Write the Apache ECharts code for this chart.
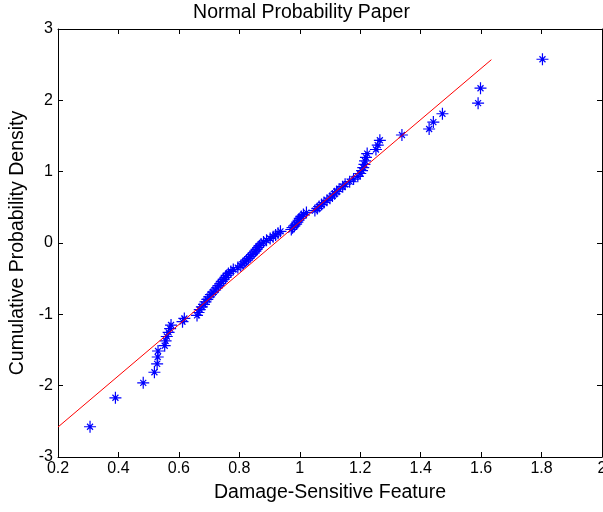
<!DOCTYPE html>
<html>
<head>
<meta charset="utf-8">
<script src="https://cdn.jsdelivr.net/npm/echarts@6/dist/echarts.min.js"></script>
<style>
html,body{margin:0;padding:0;background:#fff;overflow:hidden;}
#chart{width:603px;height:512px;}
</style>
</head>
<body>
<div id="chart"></div>
<script>
// Sorted feature values (x) and their normal quantiles (y)
const featureValues = [
  0.306, 0.390, 0.482, 0.519, 0.528, 0.530, 0.531, 0.553, 0.556, 0.560,
  0.566, 0.571, 0.574, 0.612, 0.618, 0.660, 0.665, 0.669, 0.676, 0.683,
  0.688, 0.694, 0.700, 0.706, 0.713, 0.720, 0.726, 0.731, 0.737, 0.742,
  0.748, 0.754, 0.758, 0.764, 0.772, 0.780, 0.795, 0.805, 0.812, 0.818,
  0.824, 0.830, 0.836, 0.842, 0.848, 0.853, 0.857, 0.862, 0.867, 0.872,
  0.880, 0.890, 0.902, 0.912, 0.920, 0.928, 0.936, 0.972, 0.976, 0.982,
  0.988, 0.992, 0.996, 1.000, 1.005, 1.012, 1.022, 1.050, 1.058, 1.064,
  1.072, 1.080, 1.090, 1.100, 1.108, 1.115, 1.122, 1.130, 1.142, 1.150,
  1.165, 1.178, 1.192, 1.200, 1.206, 1.210, 1.214, 1.216, 1.219, 1.223,
  1.252, 1.258, 1.265, 1.338, 1.428, 1.442, 1.472, 1.590, 1.598, 1.803
];
const quantiles = [
  -2.576, -2.170, -1.960, -1.812, -1.695, -1.598, -1.514, -1.440, -1.372, -1.311,
  -1.254, -1.200, -1.150, -1.103, -1.058, -1.015, -0.974, -0.935, -0.896, -0.860,
  -0.824, -0.789, -0.755, -0.722, -0.690, -0.659, -0.628, -0.598, -0.568, -0.539,
  -0.510, -0.482, -0.454, -0.426, -0.399, -0.372, -0.345, -0.319, -0.292, -0.266,
  -0.240, -0.215, -0.189, -0.164, -0.138, -0.113, -0.088, -0.063, -0.038, -0.013,
  0.013, 0.038, 0.063, 0.088, 0.113, 0.138, 0.164, 0.189, 0.215, 0.240,
  0.266, 0.292, 0.319, 0.345, 0.372, 0.399, 0.426, 0.454, 0.482, 0.510,
  0.539, 0.568, 0.598, 0.628, 0.659, 0.690, 0.722, 0.755, 0.789, 0.824,
  0.860, 0.896, 0.935, 0.974, 1.015, 1.058, 1.103, 1.150, 1.200, 1.254,
  1.311, 1.372, 1.440, 1.514, 1.598, 1.695, 1.812, 1.960, 2.170, 2.576
];
// Reference (fit) line endpoints
const fitLineX = [0.2, 1.634];
const fitLineY = [-2.58, 2.57];

const xTicks = [0.2, 0.4, 0.6, 0.8, 1, 1.2, 1.4, 1.6, 1.8, 2];
const yTicks = [-3, -2, -1, 0, 1, 2, 3];

const titleText = 'Normal Probability Paper';
const xLabel = 'Damage-Sensitive Feature';
const yLabel = 'Cumulative Probability Density';

const FONT = '"Liberation Sans", Arial, sans-serif';
const asterisk = 'path://M9 0H11V20H9Z M0 9H20V11H0Z M4.3 5.7L5.7 4.3L15.7 14.3L14.3 15.7Z M14.3 4.3L15.7 5.7L5.7 15.7L4.3 14.3Z';

const points = featureValues.map((v, i) => [v, quantiles[i]]);
const linePts = fitLineX.map((v, i) => [v, fitLineY[i]]);

const chart = echarts.init(document.getElementById('chart'), null, {renderer: 'canvas'});

const axisCommon = {
  axisLine: {show: true, onZero: false, lineStyle: {color: '#000', width: 1}},
  axisTick: {show: true, inside: true, length: 5, lineStyle: {color: '#000', width: 1}},
  splitLine: {show: false}
};

chart.setOption({
  backgroundColor: '#fff',
  animation: false,
  title: {
    text: titleText, left: 'center', top: -2,
    textStyle: {fontFamily: FONT, fontSize: 19.5, fontWeight: 'normal', color: '#000'}
  },
  grid: {left: 58, right: 1, top: 29, bottom: 55, containLabel: false, outerBoundsMode: 'none'},
  xAxis: [
    Object.assign({
      type: 'value', min: xTicks[0], max: xTicks[xTicks.length - 1], interval: 0.2,
      position: 'bottom',
      name: xLabel, nameLocation: 'middle', nameGap: 26,
      nameTextStyle: {fontFamily: FONT, fontSize: 19.5, color: '#000'},
      axisLabel: {fontFamily: FONT, fontSize: 16, color: '#000', margin: 4, hideOverlap: false,
        formatter: v => String(Math.round(v * 10) / 10)}
    }, axisCommon),
    Object.assign({
      type: 'value', min: xTicks[0], max: xTicks[xTicks.length - 1], interval: 0.2,
      position: 'top', axisLabel: {show: false}
    }, axisCommon)
  ],
  yAxis: [
    Object.assign({
      type: 'value', min: yTicks[0], max: yTicks[yTicks.length - 1], interval: 1,
      position: 'left',
      name: yLabel, nameLocation: 'middle', nameGap: 26, nameRotate: 90,
      nameTextStyle: {fontFamily: FONT, fontSize: 19.5, color: '#000'},
      axisLabel: {fontFamily: FONT, fontSize: 16, color: '#000', margin: 5}
    }, axisCommon),
    Object.assign({
      type: 'value', min: yTicks[0], max: yTicks[yTicks.length - 1], interval: 1,
      position: 'right', axisLabel: {show: false}
    }, axisCommon)
  ],
  series: [
    {
      type: 'line', data: linePts, xAxisIndex: 0, yAxisIndex: 0,
      showSymbol: false, symbol: 'none',
      lineStyle: {color: '#ff0000', width: 1}, z: 3, silent: true
    },
    {
      type: 'scatter', data: points, xAxisIndex: 0, yAxisIndex: 0,
      symbol: asterisk, symbolSize: 12,
      itemStyle: {color: '#0000ff', opacity: 1}, z: 2, silent: true
    }
  ]
});
</script>
</body>
</html>
